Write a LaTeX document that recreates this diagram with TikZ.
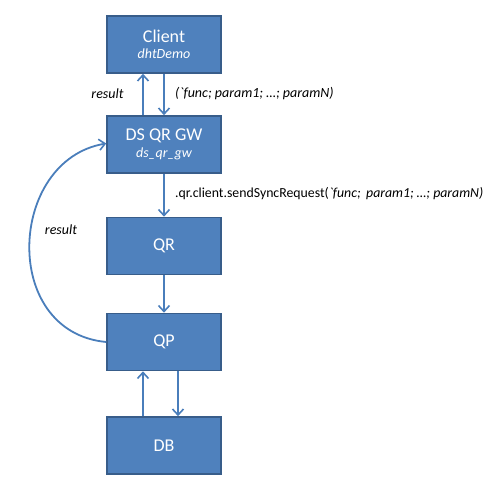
\documentclass[tikz,border=0pt]{standalone}
\usepackage{fontspec}
\setmainfont{Carlito}
\usetikzlibrary{arrows.meta}
\definecolor{boxfill}{HTML}{4F81BD}
\definecolor{boxline}{HTML}{385D8A}
\definecolor{arrcol}{HTML}{4A7EBB}
\begin{document}
\begin{tikzpicture}[x=1pt,y=-1pt,
  box/.style={draw=boxline, line width=1.6pt, fill=boxfill, minimum width=114pt, minimum height=57pt,
    text=white, align=center, inner sep=0pt, font=\fontsize{14}{16.5}\selectfont},
  arr/.style={draw=arrcol, line width=1.8pt, -{Straight Barb[length=6pt,width=11pt,line width=1.6pt]}},
  lbl/.style={font=\fontsize{14}{17}\selectfont\itshape, text=black, inner sep=0pt},
  big/.style={font=\fontsize{18}{20}\selectfont}
]
\useasboundingbox (0,0) rectangle (487,486);
\node[box] (client) at (164,44.5) {{\fontsize{18}{20}\selectfont Client}\\{\itshape dhtDemo}};
\node[box] (ds) at (164,144.5) {{\fontsize{18}{20}\selectfont DS QR GW}\\{\itshape ds\_qr\_gw}};
\node[box, big] (qr) at (164,246) {QR};
\node[box, big] (qp) at (164,342) {QP};
\node[box, big] (db) at (164,445.5) {DB};

\draw[arr] ([xshift=-21pt]ds.north) -- ([xshift=-21pt]client.south);
\draw[arr] (client.south) -- (ds.north);
\draw[arr] (ds.south) -- (qr.north);
\draw[arr] (qr.south) -- (qp.north);
\draw[arr] ([xshift=-21pt]db.north) -- ([xshift=-21pt]qp.south);
\draw[arr] ([xshift=14pt]qp.south) -- ([xshift=14pt]db.north);
\draw[arr] (qp.west) .. controls (0,332) and (8,160) .. ([yshift=1pt]ds.west);

\node[lbl] (res1) at (107.5,94) {result};
\node[lbl, anchor=west] (args1) at (175,94) {(\textasciigrave func; param1; …; paramN)};
\node[lbl, anchor=west, font=\fontsize{13.8}{16}\selectfont] (args2) at (175,194) {.qr.client.sendSyncRequest(\itshape\textasciigrave func;\, param1; …; paramN)};
\node[lbl] (res2) at (61,230) {result};
\end{tikzpicture}
\end{document}
